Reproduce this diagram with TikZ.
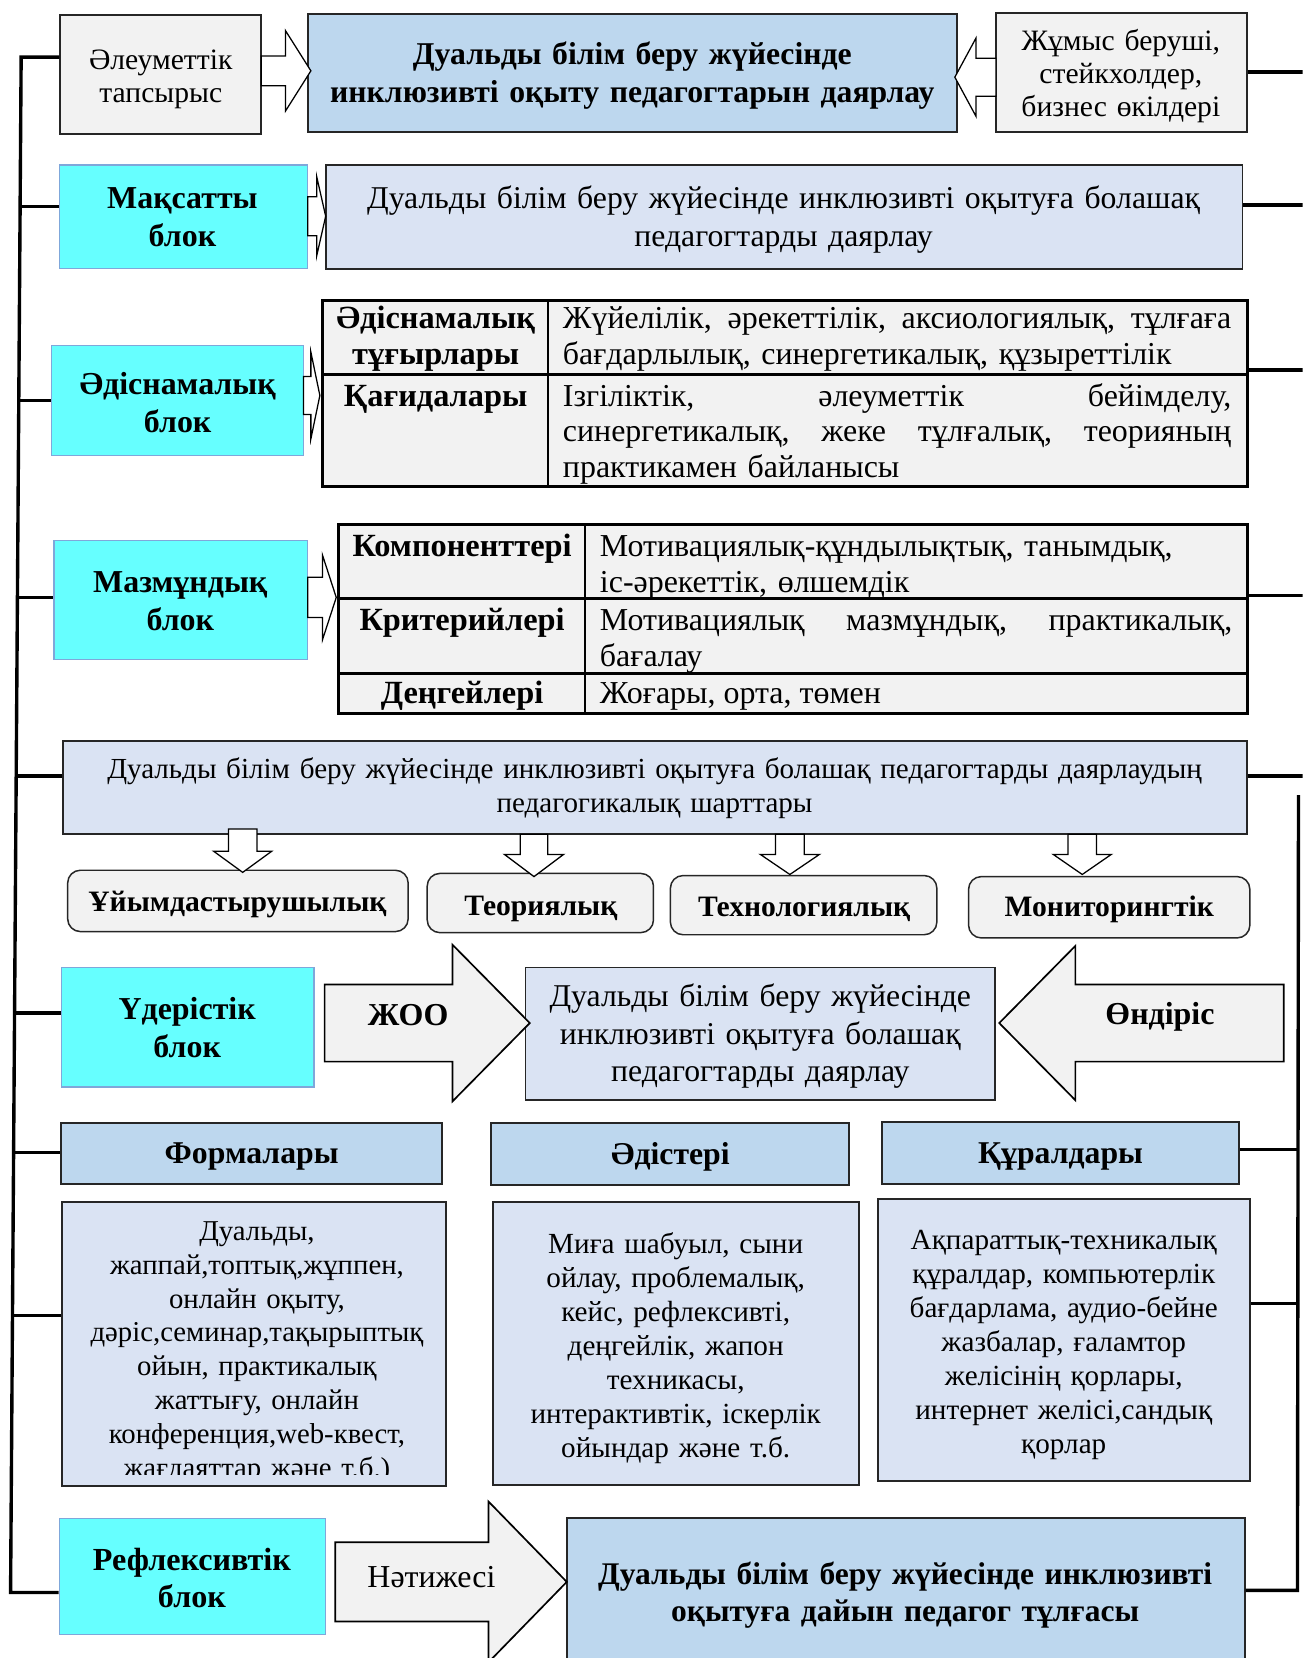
\documentclass[tikz,border=0pt]{standalone}
\usepackage{fontspec}
\setmainfont{Liberation Serif}
\usetikzlibrary{fit,calc}
\definecolor{grayfill}{HTML}{F2F2F2}
\definecolor{bluefill}{HTML}{BDD7EE}
\definecolor{lavfill}{HTML}{DAE3F3}
\definecolor{cyanfill}{HTML}{66FFFF}
\definecolor{cyanline}{HTML}{7FA7DA}
\definecolor{boxline}{HTML}{262626}
\newcommand\myfA{\fontsize{15.1}{17}\selectfont}
\newcommand\myfAb{\fontsize{15.3}{17}\selectfont\bfseries}
\newcommand\myfB{\fontsize{14}{15.6}\selectfont}
\newcommand\myfC{\fontsize{13.75}{16}\selectfont}
\newcommand\myfD{\fontsize{13.8}{16.1}\selectfont}
\newcommand\myfT{\fontsize{15}{18}\selectfont}
\newcommand\myfCy{\fontsize{15.1}{18}\selectfont\bfseries}
\newcommand\myjline[1]{\leavevmode\hbox to\linewidth{#1}}
\newcommand{\myharrow}[7][harr]{\draw[#1] (#2,#5-#6) -- (#3,#5-#6) -- (#3,#5-#7) -- (#4,#5) -- (#3,#5+#7) -- (#3,#5+#6) -- (#2,#5+#6) -- cycle;}
\newcommand{\myvarrow}[7][harr]{\draw[#1] (#2-#6,#3) -- (#2-#6,#4) -- (#2-#7,#4) -- (#2,#5) -- (#2+#7,#4) -- (#2+#6,#4) -- (#2+#6,#3) -- cycle;}
\begin{document}
\begin{tikzpicture}[x=0.5pt,y=-0.5pt,
  bx/.style={inner sep=0pt, line width=0.9pt, draw=boxline},
  graybx/.style={bx, fill=grayfill},
  bluebx/.style={bx, fill=bluefill},
  lavbx/.style={bx, fill=lavfill},
  cyanbx/.style={inner sep=0pt, line width=0.6pt, draw=cyanline, fill=cyanfill},
  tabbx/.style={inner sep=0pt, line width=1.2pt, draw=black, fill=grayfill},
  tline/.style={line width=1.2pt},
  rbx/.style={inner sep=0pt, draw=boxline, fill=grayfill, rounded corners=6pt, line width=0.7pt},
  harr/.style={draw=black, line width=0.6pt, fill=white},
  bigarr/.style={draw=black, line width=0.8pt, fill=grayfill},
  bracket/.style={line width=1.6pt, line join=miter},
  txt/.style={inner sep=0pt},
  ctext/.style={inner sep=0pt, anchor=base, align=center}
]
\useasboundingbox (0,0) rectangle (1232,1568);
\clip (0,0) rectangle (1232,1568);
\fill[white] (0,0) rectangle (1232,1568);

% ---------- top row
\node[graybx, fit={(57,14) (247,127)}] (soc) {};
\node[ctext, font=\myfB, text width=90pt] (soct) at (152,65.5) {Әлеуметтік\\тапсырыс};
\node[bluebx, fit={(291,13) (905,125)}] (title) {};
\node[ctext, font=\myfT\bfseries, text width=300pt] (titlet) at (598,61) {Дуальды білім беру жүйесінде\\инклюзивті оқыту педагогтарын даярлау};
\node[graybx, fit={(942,12) (1179,125)}] (emp) {};
\node[ctext, font=\myfB, text width=115pt] (empt) at (1060,48) {Жұмыс беруші,\\стейкхолдер,\\бизнес өкілдері};
\myharrow{247}{270}{294}{67}{14}{38}
\myharrow{942}{923}{903}{73}{18}{37}

% ---------- goal block
\node[cyanbx, fit={(56,156) (291,254)}] (mak) {};
\node[ctext, font=\myfCy, text width=115pt] (makt) at (172.5,197) {Мақсатты\\блок};
\node[lavbx, fit={(308,156) (1175,254)}] (goal) {};
\node[ctext, font=\myfT, text width=430pt] (goalt) at (741,197) {Дуальды білім беру жүйесінде инклюзивті оқытуға болашақ\\педагогтарды даярлау};
\myharrow{291}{299.5}{308}{204.5}{18.5}{37.5}

% ---------- methodological block
\node[cyanbx, fit={(49,327) (287,431)}] (adis) {};
\node[ctext, font=\myfCy, text width=115pt] (adist) at (168,373) {Әдіснамалық\\блок};
\node[tabbx, fit={(305,284) (1180,460)}] (T1) {};
\draw[tline] ($(T1.north west)+(214.5,0)$) -- ($(T1.south west)+(214.5,0)$);
\draw[tline] ($(T1.north west)+(0,71.5)$) -- ($(T1.north east)+(0,71.5)$);
\node[txt, font=\myfAb, anchor=base] (t1a) at (412,311) {Әдіснамалық};
\node[txt, font=\myfAb, anchor=base] (t1b) at (412,345) {тұғырлары};
\node[txt, font=\myfAb, anchor=base] (t1c) at (412,384) {Қағидалары};
\node[txt, font=\myfA, anchor=base west, text width=316pt, align=left] (t1d) at (532,311)
  {\myjline{Жүйелілік,\hfill әрекеттілік,\hfill аксиологиялық,\hfill тұлғаға}\\бағдарлылық, синергетикалық, құзыреттілік};
\node[txt, font=\myfA, anchor=base west, text width=316pt, align=left] (t1e) at (532,384)
  {\myjline{Ізгіліктік,\hfill әлеуметтік\hfill бейімделу,}\\\myjline{синергетикалық,\hfill жеке\hfill тұлғалық,\hfill теорияның}\\практикамен байланысы};
\myharrow{287}{294}{302.5}{374}{18}{41}

% ---------- content block
\node[cyanbx, fit={(51,511) (291,624)}] (maz) {};
\node[ctext, font=\myfCy, text width=115pt] (mazt) at (170.5,560) {Мазмұндық\\блок};
\node[tabbx, fit={(320,496) (1180,675)}] (T2) {};
\draw[tline] ($(T2.north west)+(234.5,0)$) -- ($(T2.south west)+(234.5,0)$);
\draw[tline] ($(T2.north west)+(0,71.3)$) -- ($(T2.north east)+(0,71.3)$);
\draw[tline] ($(T2.north west)+(0,142.2)$) -- ($(T2.north east)+(0,142.2)$);
\node[txt, font=\myfAb, anchor=base] (t2a) at (437,526) {Компоненттері};
\node[txt, font=\myfAb, anchor=base] (t2b) at (437,596) {Критерийлері};
\node[txt, font=\myfAb, anchor=base] (t2c) at (437,665) {Деңгейлері};
\node[txt, font=\myfA, anchor=base west, text width=299pt, align=left] (t2d) at (567,526)
  {Мотивациялық-құндылықтық, танымдық,\\іс-әрекеттік, өлшемдік};
\node[txt, font=\myfA, anchor=base west, text width=299pt, align=left] (t2e) at (567,596)
  {\myjline{Мотивациялық\hfill мазмұндық,\hfill практикалық,}\\бағалау};
\node[txt, font=\myfA, anchor=base west] (t2f) at (567,665) {Жоғары, орта, төмен};
\myharrow{291}{305}{318}{565}{19}{40}

% ---------- conditions
\node[lavbx, fit={(60,701) (1179,789)}] (cond) {};
\node[ctext, font=\myfC, text width=555pt] (condt) at (619,736) {Дуальды білім беру жүйесінде инклюзивті оқытуға болашақ педагогтарды даярлаудың\\педагогикалық шарттары};
\node[rbx, fit={(64,823) (386,881)}] (org) {};
\node[txt, font=\fontsize{14}{16}\selectfont\bfseries, anchor=base] (orgt) at (224.5,862) {Ұйымдастырушылық};
\node[rbx, fit={(404,826) (618,882)}] (theo) {};
\node[txt, font=\fontsize{14}{16}\selectfont\bfseries, anchor=base] (theot) at (511.5,866) {Теориялық};
\node[rbx, fit={(634,828) (886,884)}] (tech) {};
\node[txt, font=\fontsize{14}{16}\selectfont\bfseries, anchor=base] (techt) at (760.5,867) {Технологиялық};
\node[rbx, fit={(916,829) (1182,887)}] (mon) {};
\node[txt, font=\fontsize{14}{16}\selectfont\bfseries, anchor=base] (mont) at (1049,867) {Мониторингтік};
\myvarrow{229.5}{784}{805}{825}{13.5}{27.5}
\myvarrow{505}{789}{808}{829}{13}{28}
\myvarrow{747}{789}{808}{827}{13.5}{28}
\myvarrow{1023.5}{789}{808}{827}{13.5}{27.5}

% ---------- process block
\node[cyanbx, fit={(58,915) (297,1028)}] (ud) {};
\node[ctext, font=\myfCy, text width=115pt] (udt) at (177,964) {Үдерістік\\блок};
\node[lavbx, fit={(497,915) (941,1040)}] (mid) {};
\node[ctext, font=\fontsize{15}{17.75}\selectfont, text width=220pt] (midt) at (719,952) {Дуальды білім беру жүйесінде\\инклюзивті оқытуға болашақ\\педагогтарды даярлау};
\myharrow[bigarr]{307}{428}{501}{967.5}{36.5}{74}
\node[txt, font=\myfA\bfseries] (zhoo) at (386,960) {ЖОО};
\myharrow[bigarr]{1214}{1017}{945}{967.5}{36.5}{73}
\node[txt, font=\myfA\bfseries] (ond) at (1097,962) {Өндіріс};

% ---------- forms, methods, tools
\node[bluebx, fit={(58,1062) (418,1120)}] (h1) {};
\node[txt, font=\fontsize{15}{17}\selectfont\bfseries, anchor=base] (h1t) at (238,1100) {Формалары};
\node[bluebx, fit={(464,1062) (803,1121)}] (h2) {};
\node[txt, font=\fontsize{15}{17}\selectfont\bfseries, anchor=base] (h2t) at (634,1101) {Әдістері};
\node[bluebx, fit={(834,1061) (1172,1120)}] (h3) {};
\node[txt, font=\fontsize{15}{17}\selectfont\bfseries, anchor=base] (h3t) at (1003,1100) {Құралдары};
\node[lavbx, fit={(59,1137) (422,1405)}] (c1) {};
\node[lavbx, fit={(466,1137) (812,1404)}] (c2) {};
\node[lavbx, fit={(830,1134) (1182,1401)}] (c3) {};
\begin{scope}
\clip (62,1139) rectangle (420,1394);
\node[txt, font=\fontsize{13.6}{16}\selectfont, anchor=base, text width=178pt, align=center] (c1t) at (243,1173)
  {Дуальды,\\жаппай,топтық,жұппен,\\онлайн оқыту,\\дәріс,семинар,тақырыптық\\ойын, практикалық\\жаттығу, онлайн\\конференция,web-квест,\\жағдаяттар және т.б.)};
\end{scope}
\node[txt, font=\myfD, anchor=base, text width=170pt, align=center] (c2t) at (639,1185.5)
  {Миға шабуыл, сыни\\ойлау, проблемалық,\\кейс, рефлексивті,\\деңгейлік, жапон\\техникасы,\\интерактивтік, іскерлік\\ойындар және т.б.};
\node[txt, font=\myfD, anchor=base, text width=172pt, align=center] (c3t) at (1006,1181.5)
  {Ақпараттық-техникалық\\құралдар, компьютерлік\\бағдарлама, аудио-бейне\\жазбалар, ғаламтор\\желісінің қорлары,\\интернет желісі,сандық\\қорлар};

% ---------- reflexive block
\node[cyanbx, fit={(56,1436) (308,1546)}] (ref) {};
\node[ctext, font=\fontsize{15.2}{17.5}\selectfont\bfseries, text width=120pt] (reft) at (181.5,1485) {Рефлексивтік\\блок};
\node[bluebx, fit={(536,1436) (1177,1578)}] (res) {};
\node[ctext, font=\fontsize{14.9}{17.5}\selectfont\bfseries, text width=315pt] (rest) at (856,1498) {Дуальды білім беру жүйесінде инклюзивті\\оқытуға дайын педагог тұлғасы};
\myharrow[bigarr]{317}{462}{536}{1496}{37.5}{76}
\node[txt, font=\myfA] (nat) at (408,1491) {Нәтижесі};

% ---------- left bracket
\coordinate (L0) at (20,54);
\coordinate (Lm) at (19,195);
\coordinate (La) at (17.8,379);
\coordinate (Lz) at (16.5,565);
\coordinate (Lc) at (15.3,734);
\coordinate (Lu) at (13.8,958);
\coordinate (Lf) at (12.9,1090);
\coordinate (Lg) at (11.8,1244);
\coordinate (L9) at (10,1506);
\draw[bracket] (soc.west |- L0) -- (L0) -- (L9) -- (ref.west |- L9);
\draw[bracket] (Lm) -- (mak.west |- Lm);
\draw[bracket] (La) -- (adis.west |- La);
\draw[bracket] (Lz) -- (maz.west |- Lz);
\draw[bracket] (Lc) -- (cond.west |- Lc);
\draw[bracket] (Lu) -- (ud.west |- Lu);
\draw[bracket] (Lf) -- (h1.west |- Lf);
\draw[bracket] (Lg) -- (c1.west |- Lg);

% ---------- right bracket
\coordinate (Re) at (1236,68);
\coordinate (Rg) at (1236,194);
\coordinate (Rt1) at (1236,350);
\coordinate (Rt2) at (1236,563);
\coordinate (Rc) at (1236,734);
\coordinate (Rv0) at (1228,752);
\coordinate (Rv1) at (1228,1087);
\coordinate (Rv2) at (1227.5,1233);
\coordinate (Rv3) at (1227,1504);
\draw[bracket] (emp.east |- Re) -- (Re);
\draw[bracket] (goal.east |- Rg) -- (Rg);
\draw[bracket] (T1.east |- Rt1) -- (Rt1);
\draw[bracket] (T2.east |- Rt2) -- (Rt2);
\draw[bracket] (cond.east |- Rc) -- (Rc);
\draw[bracket] (Rv0) -- (Rv3) -- (res.east |- Rv3);
\draw[bracket] (Rv1) -- (h3.east |- Rv1);
\draw[bracket] (Rv2) -- (c3.east |- Rv2);
\end{tikzpicture}
\end{document}
